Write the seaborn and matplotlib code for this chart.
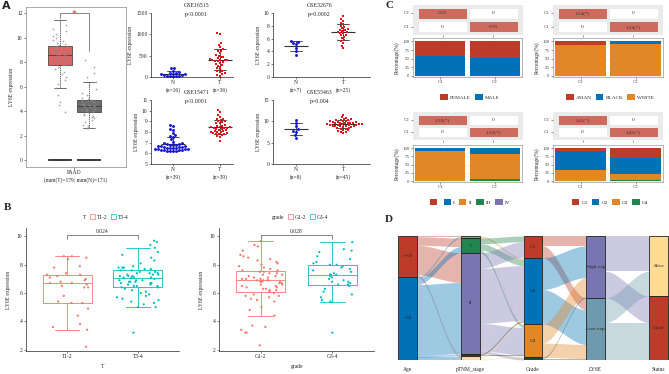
import numpy as np
import pandas as pd
import matplotlib
matplotlib.use('Agg')
import matplotlib.pyplot as plt
from matplotlib.patches import Patch
from matplotlib.colors import LinearSegmentedColormap
import seaborn as sns

# ---- panel A: GEPIA box (PAAD tumour vs normal) ----
paad_tumor = [11.4, 11.0, 10.7, 10.5, 10.3, 10.1, 10.0, 9.8, 9.7, 9.6, 9.5, 9.4, 9.3,
              9.3, 9.2, 9.1, 9.0, 9.0, 8.9, 8.8, 8.8, 8.7, 8.7, 8.6, 8.6,
              8.5, 8.5, 8.4, 8.3, 8.2, 8.2, 8.1, 8.0, 8.0, 7.9, 7.8, 7.8,
              7.6, 7.4, 7.2, 7.0, 6.8, 6.5, 6.2, 5.9, 5.3, 4.7, 4.5, 3.9]
paad_normal = [8.2, 7.6, 7.1, 6.8, 6.4, 6.1, 5.8, 5.5, 5.3, 5.1, 5.0, 4.9,
               4.9, 4.8, 4.8, 4.7, 4.7, 4.6, 4.6, 4.5, 4.5, 4.4, 4.4,
               4.4, 4.3, 4.3, 4.2, 4.2, 4.1, 4.1, 4.0, 4.0, 3.9, 3.9,
               3.8, 3.7, 3.6, 3.5, 3.4, 3.3, 3.1, 2.9, 2.8, 2.6, 2.6]
baseline_groups = ['Tumor', 'Tumor', 'Normal', 'Normal']
baseline_vals = [0.0, 0.0, 0.0, 0.0]

# ---- panel A: GEO dot plots ----
gse16515_n = [220, 200, 150, 120, 100, 90, 80, 70, 60, 50, 40, 30, 30, 20, 15, 10]
gse16515_t = [1030, 1000, 800, 760, 700, 650, 620, 600, 560, 520, 500, 480, 460, 440, 420, 410,
              400, 400, 390, 380, 370, 350, 330, 300, 280, 260, 240, 200, 180, 150, 130, 110,
              90, 70, 50, 30]
gse32676_n = [5.6, 5.5, 5.3, 5.2, 4.5, 4.0, 3.5]
gse32676_t = [9.5, 9.0, 8.8, 8.5, 8.3, 8.0, 7.8, 7.6, 7.5, 7.4, 7.3, 7.2, 7.0, 7.0, 6.9,
              6.8, 6.6, 6.5, 6.3, 6.1, 5.8, 5.6, 5.3, 4.9, 4.5]
gse15471_n = [8.7, 8.6, 8.3, 8.2, 7.9, 7.7, 7.6, 7.5, 7.3, 7.1, 7.0, 7.0, 6.9, 6.9, 6.8,
              6.8, 6.8, 6.7, 6.7, 6.7, 6.6, 6.6, 6.6, 6.5, 6.5, 6.5, 6.5, 6.4, 6.4, 6.4,
              6.4, 6.3, 6.3, 6.3, 6.3, 6.2, 6.2, 6.2, 6.2]
gse15471_t = [10.1, 9.9, 9.6, 9.4, 9.2, 9.2, 9.1, 9.0, 9.0, 8.9, 8.8, 8.8, 8.7, 8.6, 8.6,
              8.5, 8.5, 8.5, 8.4, 8.4, 8.4, 8.3, 8.3, 8.2, 8.2, 8.1, 8.1, 8.0, 8.0, 8.0,
              7.9, 7.9, 7.8, 7.8, 7.8, 7.7, 7.6, 7.5, 7.2]
gse55463_n = [10.4, 9.6, 8.9, 8.1, 7.8, 7.5, 6.8, 6.2]
gse55463_t = [11.5, 11.0, 10.8, 10.6, 10.5, 10.4, 10.3, 10.2, 10.1, 10.0, 10.0, 9.9, 9.9,
              9.8, 9.7, 9.7, 9.6, 9.6, 9.5, 9.5, 9.4, 9.4, 9.3, 9.3, 9.2, 9.2, 9.1, 9.1,
              9.0, 9.0, 8.9, 8.8, 8.8, 8.7, 8.6, 8.5, 8.4, 8.3, 8.2, 8.0, 7.9, 7.8, 7.6,
              7.5, 7.3]

# ---- panel B: TCGA box + jitter ----
t12 = [8.6, 8.6, 8.5, 8.4, 7.9, 7.8, 7.4, 7.3, 7.3, 7.2, 7.1, 7.0, 6.9, 6.8, 6.7,
       6.7, 6.6, 6.5, 6.4, 6.4, 5.8, 5.4, 5.3, 5.3, 4.9, 4.4, 3.8, 3.6, 3.4, 2.2]
t34 = [9.7, 9.6, 9.4, 9.2, 8.9, 8.7, 8.5, 8.3, 8.1, 7.9,
       7.8, 7.8, 7.8, 7.7, 7.7, 7.6, 7.6, 7.5, 7.5, 7.4, 7.4, 7.4, 7.3, 7.3, 7.3, 7.2, 7.2, 7.2, 7.1, 7.1,
       7.1, 7.1, 7.0, 6.9, 6.9, 6.9, 6.8, 6.8, 6.8, 6.7, 6.7, 6.7, 6.6, 6.6, 6.5, 6.5, 6.5, 6.4, 6.4, 6.3,
       6.2, 6.1, 6.0, 5.9, 5.8, 5.7, 5.6, 5.5, 5.4, 5.3, 5.2, 5.0, 5.0, 3.2]
g12 = [9.7, 9.4, 9.3, 9.0, 8.7, 8.6, 8.5, 8.4, 8.3, 8.2, 8.1, 8.0, 7.9, 7.8, 7.7, 7.6, 7.6, 7.5,
       7.5, 7.4, 7.4, 7.3, 7.3, 7.2, 7.2, 7.1, 7.1, 7.0, 7.0, 7.0, 6.9, 6.9, 6.9,
       6.9, 6.8, 6.8, 6.8, 6.7, 6.7, 6.6, 6.6, 6.5, 6.5, 6.4, 6.4, 6.3, 6.3, 6.2, 6.2,
       6.1, 6.0, 5.9, 5.8, 5.8, 5.7, 5.6, 5.5, 5.4, 5.0, 4.8, 4.4, 3.7, 3.6, 3.4, 3.2, 3.2, 2.3]
g34 = [9.6, 9.1, 9.0, 8.9, 8.6, 8.4, 8.2, 8.1, 8.0,
       8.0, 7.9, 7.8, 7.7, 7.6, 7.5, 7.4, 7.3, 7.3, 7.3,
       7.2, 7.1, 7.0, 6.9, 6.8, 6.8, 6.7, 6.6, 6.6, 6.5,
       6.3, 6.1, 5.9, 5.7, 5.5, 5.4, 3.2]

# ---- panel C: cluster comparisons ----
clusters = ['C1', 'C2']
heat_sex = [[0.35, 0], [0, 0.35]]
heat_sex_lbl = [['0.35', '0'], ['0', '0.35']]
heat_race = [[1.54, 0], [0, 1.54]]
heat_race_lbl = [['1.54(*)', '0'], ['0', '1.54(*)']]
heat_stage = [[1.53, 0], [0, 1.53]]
heat_stage_lbl = [['1.53(*)', '0'], ['0', '1.53(*)']]
heat_grade = [[3.41, 0], [0, 3.41]]
heat_grade_lbl = [['3.41(*)', '0'], ['0', '3.41(*)']]

sex_levels = ['FEMALE', 'MALE']
sex_c1 = [41, 59]
sex_c2 = [47, 53]
race_levels = ['ASIAN', 'BLACK', 'WHITE']
race_c1 = [11, 0, 89]
race_c2 = [0, 8, 92]
stage_bar_levels = ['I', 'II', 'III', 'IV']
stage_c1 = [7, 93, 0, 0]
stage_c2 = [18, 77, 4, 1]
grade_bar_levels = ['G1', 'G2', 'G3', 'G4']
grade_c1 = [8, 57, 35, 0]
grade_c2 = [31, 47, 20, 2]

# ---- panel D: alluvial flows (counts) ----
age_levels = ['<=60', '>60']
stage_levels = ['III', 'I', 'II', 'IV', 'NA']
grade_levels = ['G1', 'G2', 'G3', 'G4']
ly6e_levels = ['High exp', 'Low exp']
status_levels = ['Alive', 'Dead']
age_stage = [[1, 12, 42, 1, 2],
             [2, 9, 101, 2, 4]]
stage_grade = [[0, 2, 1, 0],
               [8, 9, 4, 0],
               [22, 78, 39, 4],
               [0, 2, 1, 0],
               [1, 3, 2, 0]]
grade_ly6e = [[14, 17], [45, 49], [27, 20], [2, 2]]
ly6e_status = [[50, 38], [35, 53]]

RED, BLUE, ORANGE, GREEN, PURPLE, GREYBLUE, YELLOW = (
    '#BC3C29', '#0072B5', '#E18727', '#20854E', '#7876B1', '#6F99AD', '#FFDC91')

sns.set_style('ticks')
plt.rcParams['font.family'] = ['Liberation Serif', 'DejaVu Serif']
plt.rcParams['font.size'] = 4
plt.rcParams['axes.linewidth'] = 0.5
plt.rcParams['xtick.major.width'] = 0.4
plt.rcParams['ytick.major.width'] = 0.4
plt.rcParams['xtick.major.size'] = 1.5
plt.rcParams['ytick.major.size'] = 1.5
plt.rcParams['xtick.major.pad'] = 1
plt.rcParams['ytick.major.pad'] = 1
plt.rcParams['xtick.labelsize'] = 4
plt.rcParams['ytick.labelsize'] = 4
plt.rcParams['axes.labelsize'] = 4

W, H = 669, 374
fig = plt.figure(figsize=(6.69, 3.74), dpi=100)


def px_axes(x0, y0, x1, y1):
    # axes placed by pixel box (top-left origin)
    return fig.add_axes([x0 / W, 1 - y1 / H, (x1 - x0) / W, (y1 - y0) / H])


def panel_letter(x, y, s, family=None):
    fig.text(x / W, 1 - y / H, s, fontsize=8, fontweight='bold', va='center',
             family=family)


# ================= A: GEPIA =================
ax = px_axes(26, 7, 126, 167)
gepia = pd.DataFrame({'group': ['Tumor'] * len(paad_tumor) + ['Normal'] * len(paad_normal),
                      'val': paad_tumor + paad_normal})
order = ['Tumor', 'Normal']
sns.boxplot(data=gepia, x='group', y='val', hue='group', order=order,
            palette={'Tumor': '#F05050', 'Normal': '#6E6E6E'}, width=0.83,
            showfliers=False, linewidth=0.5, linecolor='#333',
            whiskerprops={'linestyle': (0, (2, 1))}, legend=False, ax=ax)
sns.boxplot(x=baseline_groups, y=baseline_vals, order=order, color='#3a3a3a',
            linecolor='#3a3a3a', width=0.83, linewidth=1.1, ax=ax)
sns.stripplot(data=gepia, x='group', y='val', order=order, color='#8c8c8c',
              size=1.3, jitter=0.25, alpha=0.75, linewidth=0, ax=ax)
ax.plot([0, 0, 1, 1], [11.6, 12.0, 12.0, 8.9], color='#555', lw=0.5)
ax.text(0.5, 12.0, '*', color='#E03030', ha='center', va='center', fontsize=7)
ax.set_xlim(-1.17, 2.28)
ax.set_ylim(-0.57, 12.5)
ax.set_yticks(range(0, 13, 2))
ax.set_xticks([0.5])
ax.set_xticklabels(['PAAD'])
ax.set_xlabel('(num(T)=179; num(N)=171)', labelpad=1)
ax.set_ylabel('LY6E expression', labelpad=2)
for s in ax.spines.values():
    s.set_color('#888')
panel_letter(2, 6, 'A', family='DejaVu Sans')


# ================= A: GEO dot plots =================
def dot_panel(box, n_vals, t_vals, title, ptext, ylim, yticks, xlim):
    ax = px_axes(*box)
    n_df = pd.DataFrame({'group': 'N', 'val': n_vals})
    t_df = pd.DataFrame({'group': 'T', 'val': t_vals})
    sns.swarmplot(data=n_df, x='group', y='val', order=['N', 'T'], color='#1414D2',
                  marker='o', size=2.1, linewidth=0, ax=ax)
    sns.swarmplot(data=t_df, x='group', y='val', order=['N', 'T'], color='#E3151A',
                  marker='s', size=1.9, linewidth=0, ax=ax)
    both = pd.concat([n_df, t_df])
    sns.pointplot(data=both, x='group', y='val', order=['N', 'T'], errorbar='sd',
                  color='#333', marker='_', markersize=17, markeredgewidth=0.8,
                  linestyle='none', capsize=0.25, err_kws={'linewidth': 0.6}, ax=ax)
    ax.set_xlim(*xlim)
    ax.set_ylim(*ylim)
    ax.set_yticks(yticks)
    ax.set_xticks([0, 1])
    ax.set_xticklabels(['N\n(n=%d)' % len(n_vals), 'T\n(n=%d)' % len(t_vals)],
                       linespacing=1.3)
    ax.set_xlabel('')
    ax.set_ylabel('LY6E expression', labelpad=2)
    tr = ax.get_xaxis_transform()
    ax.text(0.5, 1.11, title, transform=tr, ha='center', va='center', fontsize=4.2)
    ax.text(0.5, 0.97, ptext, transform=tr, ha='center', va='center', fontsize=4.2)
    sns.despine(ax=ax)


dot_panel((151, 13, 233, 77), gse16515_n, gse16515_t, 'GSE16515', 'p<0.0001',
          (0, 1500), [0, 500, 1000, 1500], (-0.47, 1.28))
dot_panel((273, 13, 370, 77), gse32676_n, gse32676_t, 'GSE32676', 'p=0.0002',
          (0, 10), [0, 2, 4, 6, 8, 10], (-0.49, 1.57))
dot_panel((151, 100, 233, 164), gse15471_n, gse15471_t, 'GSE15471', 'p<0.0001',
          (5, 11), [5, 6, 7, 8, 9, 10, 11], (-0.47, 1.28))
dot_panel((273, 100, 370, 164), gse55463_n, gse55463_t, 'GSE55463', 'p=0.004',
          (0, 15), [0, 5, 10, 15], (-0.49, 1.57))


# ================= B =================
def box_jitter(box, lo_vals, hi_vals, labels, var, pval):
    ax = px_axes(*box)
    df = pd.DataFrame({'group': [labels[0]] * len(lo_vals) + [labels[1]] * len(hi_vals),
                       'val': lo_vals + hi_vals})
    pal = {labels[0]: '#F8766D', labels[1]: '#00BFC4'}
    sns.boxplot(data=df, x='group', y='val', hue='group', order=labels, palette=pal,
                fill=False, width=0.69, showfliers=False, linewidth=0.6,
                legend=False, ax=ax)
    sns.stripplot(data=df, x='group', y='val', hue='group', order=labels, palette=pal,
                  size=1.6, jitter=0.3, linewidth=0, legend=False, ax=ax)
    ax.plot([0, 0, 1, 1], [9.85, 10.1, 10.1, 9.85], color='#555', lw=0.5)
    ax.text(0.5, 10.2, pval, ha='center', va='bottom', fontsize=4)
    ax.set_xlim(-0.58, 1.58)
    ax.set_ylim(1.9, 10.6)
    ax.set_yticks([2, 4, 6, 8, 10])
    ax.set_xlabel(var, labelpad=3)
    ax.set_ylabel('LY6E expression', labelpad=4)
    sns.despine(ax=ax)
    handles = [Patch(facecolor='none', edgecolor='none')] + \
              [Patch(facecolor='white', edgecolor=pal[l], lw=0.5) for l in labels]
    ax.legend(handles, [var] + labels, loc='center', bbox_to_anchor=(0.5, 1.09),
              ncol=3, frameon=False, fontsize=4, handlelength=0.9, handleheight=0.9,
              handletextpad=0.4, columnspacing=0.6)


box_jitter((26, 228, 179, 351), t12, t34, ['T1-2', 'T3-4'], 'T', '0.024')
box_jitter((219, 228, 374, 351), g12, g34, ['G1-2', 'G3-4'], 'grade', '0.028')
panel_letter(4, 207, 'B')

# ================= C =================
heat_cmap = LinearSegmentedColormap.from_list('hc', ['#FFFFFF', '#CD6B5E'])


def heat_panel(box, mat, lbl):
    ax = px_axes(*box)
    arr = np.array(mat, dtype=float)
    sns.heatmap(arr, annot=np.array(lbl), fmt='', cmap=heat_cmap, vmin=0, vmax=arr.max(),
                cbar=False, linewidths=1.0, linecolor='#EBEBEB',
                annot_kws={'fontsize': 3.8, 'color': '#333'},
                xticklabels=False, yticklabels=['C2', 'C1'], ax=ax)
    ax.set_facecolor('#EBEBEB')
    ax.set_xlim(-0.08, 2.08)
    ax.set_ylim(2.12, -0.12)
    ax.set_xticks([0.5, 1.5])
    ax.set_xticklabels([])
    ax.tick_params(axis='y', rotation=0, labelsize=3.5, colors='#444')
    ax.tick_params(length=1.2, width=0.4, color='#444')
    for s in ax.spines.values():
        s.set_visible(False)


def stack_panel(box, levels, c1, c2, colors):
    ax = px_axes(*box)
    df = pd.DataFrame({'cluster': ['C1'] * len(levels) + ['C2'] * len(levels),
                       'level': levels * 2, 'pct': c1 + c2})
    sns.histplot(data=df, x='cluster', hue='level', weights='pct', multiple='stack',
                 hue_order=levels, palette=dict(zip(levels, colors)), discrete=True,
                 shrink=0.92, alpha=1, linewidth=0, legend=False, ax=ax)
    ax.set_xlim(-0.5, 1.5)
    ax.set_ylim(-3, 110)
    ax.set_yticks([0, 25, 50, 75, 100])
    ax.set_xlabel('')
    ax.set_ylabel('Percentage(%)', labelpad=2)
    ax.grid(color='#e6e6e6', lw=0.4)
    ax.set_axisbelow(True)
    ax.tick_params(labelsize=3.5, colors='#444')
    for s in ax.spines.values():
        s.set_color('#999')


def c_legend(cx, cy, labels, colors):
    handles = [Patch(facecolor=c, edgecolor='none') for c in colors]
    fig.legend(handles, labels, loc='center', bbox_to_anchor=(cx / W, 1 - cy / H),
               ncol=len(labels), frameon=False, fontsize=3.8, handlelength=1.4,
               handleheight=1.4, handletextpad=0.4, columnspacing=0.8)


heat_panel((413, 5, 523, 35), heat_sex, heat_sex_lbl)
stack_panel((413, 38, 522, 77), sex_levels, sex_c1, sex_c2, [RED, BLUE])
c_legend(470, 97, sex_levels, [RED, BLUE])

heat_panel((553, 5, 663, 35), heat_race, heat_race_lbl)
stack_panel((553, 38, 663, 77), race_levels, race_c1, race_c2, [RED, BLUE, ORANGE])
c_legend(610, 97, race_levels, [RED, BLUE, ORANGE])

heat_panel((413, 112, 523, 140), heat_stage, heat_stage_lbl)
stack_panel((413, 145, 522, 182), stage_bar_levels, stage_c1, stage_c2,
            [BLUE, ORANGE, GREEN, PURPLE])
c_legend(470, 202, [''] + stage_bar_levels, [RED, BLUE, ORANGE, GREEN, PURPLE])

heat_panel((553, 112, 663, 140), heat_grade, heat_grade_lbl)
stack_panel((553, 145, 663, 182), grade_bar_levels, grade_c1, grade_c2,
            [RED, BLUE, ORANGE, GREEN])
c_legend(610, 202, grade_bar_levels, [RED, BLUE, ORANGE, GREEN])
panel_letter(385, 6, 'C')

# ================= D: alluvial =================
ax = px_axes(390, 236, 669, 360)
w = 0.30
age_n = np.array(age_stage).sum(axis=1)
stage_n = np.array(age_stage).sum(axis=0)
grade_n = np.array(stage_grade).sum(axis=0)
ly6e_n = np.array(grade_ly6e).sum(axis=0)
status_n = np.array(ly6e_status).sum(axis=0)
columns = [
    (age_levels, age_n, [RED, BLUE]),
    (stage_levels, stage_n, [ORANGE, GREEN, PURPLE, '#333333', YELLOW]),
    (grade_levels, grade_n, [RED, BLUE, ORANGE, '#1d4d33']),
    (ly6e_levels, ly6e_n, [PURPLE, GREYBLUE]),
    (status_levels, status_n, [YELLOW, RED]),
]
flows = [age_stage, stage_grade, grade_ly6e, ly6e_status]
t = np.linspace(0, 1, 60)
ease = 3 * t ** 2 - 2 * t ** 3
for i, mat in enumerate(flows):
    mat = np.array(mat)
    src_cur = np.concatenate([[0], np.cumsum(mat.sum(axis=1))[:-1]]).astype(float)
    tgt_cur = np.concatenate([[0], np.cumsum(mat.sum(axis=0))[:-1]]).astype(float)
    src_cols = columns[i][2]
    xs = i + w / 2 + t * (1 - w)
    for r in range(mat.shape[0]):
        for c in range(mat.shape[1]):
            n = mat[r, c]
            if n == 0:
                continue
            top = src_cur[r] + (tgt_cur[c] - src_cur[r]) * ease
            ax.fill_between(xs, top, top + n, color=src_cols[r], alpha=0.38, lw=0)
            src_cur[r] += n
            tgt_cur[c] += n
for i, (levels, counts, cols) in enumerate(columns):
    bottoms = np.concatenate([[0], np.cumsum(counts)[:-1]])
    ax.bar([i] * len(counts), counts, bottom=bottoms, width=w, color=cols,
           edgecolor='#222', linewidth=0.6)
    for lv, b, n in zip(levels, bottoms, counts):
        if n >= 15:
            ax.text(i, b + n / 2, lv, ha='center', va='center', fontsize=3.8)
ax.set_xlim(-0.28, 4.17)
ax.set_ylim(age_n.sum(), 0)
ax.set_xticks(range(5))
ax.set_xticklabels(['Age', 'pTNM_stage', 'Grade', 'LY6E', 'Status'])
ax.tick_params(length=0, pad=5)
ax.set_yticks([])
for s in ax.spines.values():
    s.set_visible(False)
panel_letter(385, 220, 'D')

fig.savefig('out.png', dpi=100)
